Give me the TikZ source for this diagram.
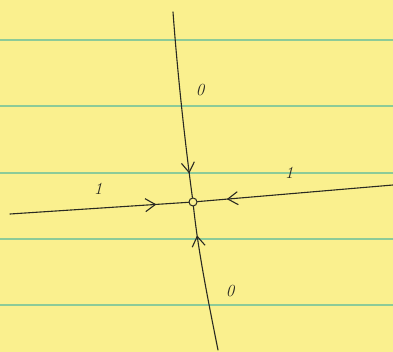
\documentclass[tikz,border=0pt]{standalone}
\usetikzlibrary{arrows.meta,decorations.markings}
\definecolor{padyellow}{HTML}{FAF08E}
\definecolor{ruleline}{HTML}{8CCB98}
\definecolor{ink}{HTML}{2A2A22}
\tikzset{
  rule/.style={draw=ruleline, line width=1.3pt},
  pen/.style={draw=ink, line width=1.1pt, line cap=round},
  midtip/.style={postaction={decorate}, decoration={markings,
     mark=at position #1 with {\arrow[ink, line width=1.1pt]{Straight Barb[length=10pt,width=13pt]}}}},
  dot/.style={circle, draw=ink, line width=1pt, inner sep=0pt, minimum size=8pt},
  lbl/.style={text=ink, font=\itshape\fontsize{17}{17}\selectfont}
}
\begin{document}
\begin{tikzpicture}[x=1pt,y=-1pt]
\fill[padyellow] (0,0) rectangle (393,352);
\useasboundingbox (0,0) rectangle (393,352);
\foreach \yy in {40,106,173,239,305} \draw[rule] (0,\yy) -- (393,\yy);
\node[dot] (c) at (193,202) {};
\coordinate (T) at (173,12);
\coordinate (B) at (218,350);
\coordinate (L) at (10,214);
\coordinate (R) at (393,185);
\draw[pen, midtip=0.87] (T) .. controls (178,80) and (186,150) .. (c);
\draw[pen, midtip=0.8] (B) .. controls (208,300) and (198,250) .. (c);
\draw[pen, midtip=0.82] (L) -- (c);
\draw[pen, midtip=0.85] (R) -- (c);
\node[lbl] (t0) at (200,90) {0};
\node[lbl] (b0) at (230,291) {0};
\node[lbl] (l1) at (98,189) {1};
\node[lbl] (r1) at (289,173) {1};
\end{tikzpicture}
\end{document}
